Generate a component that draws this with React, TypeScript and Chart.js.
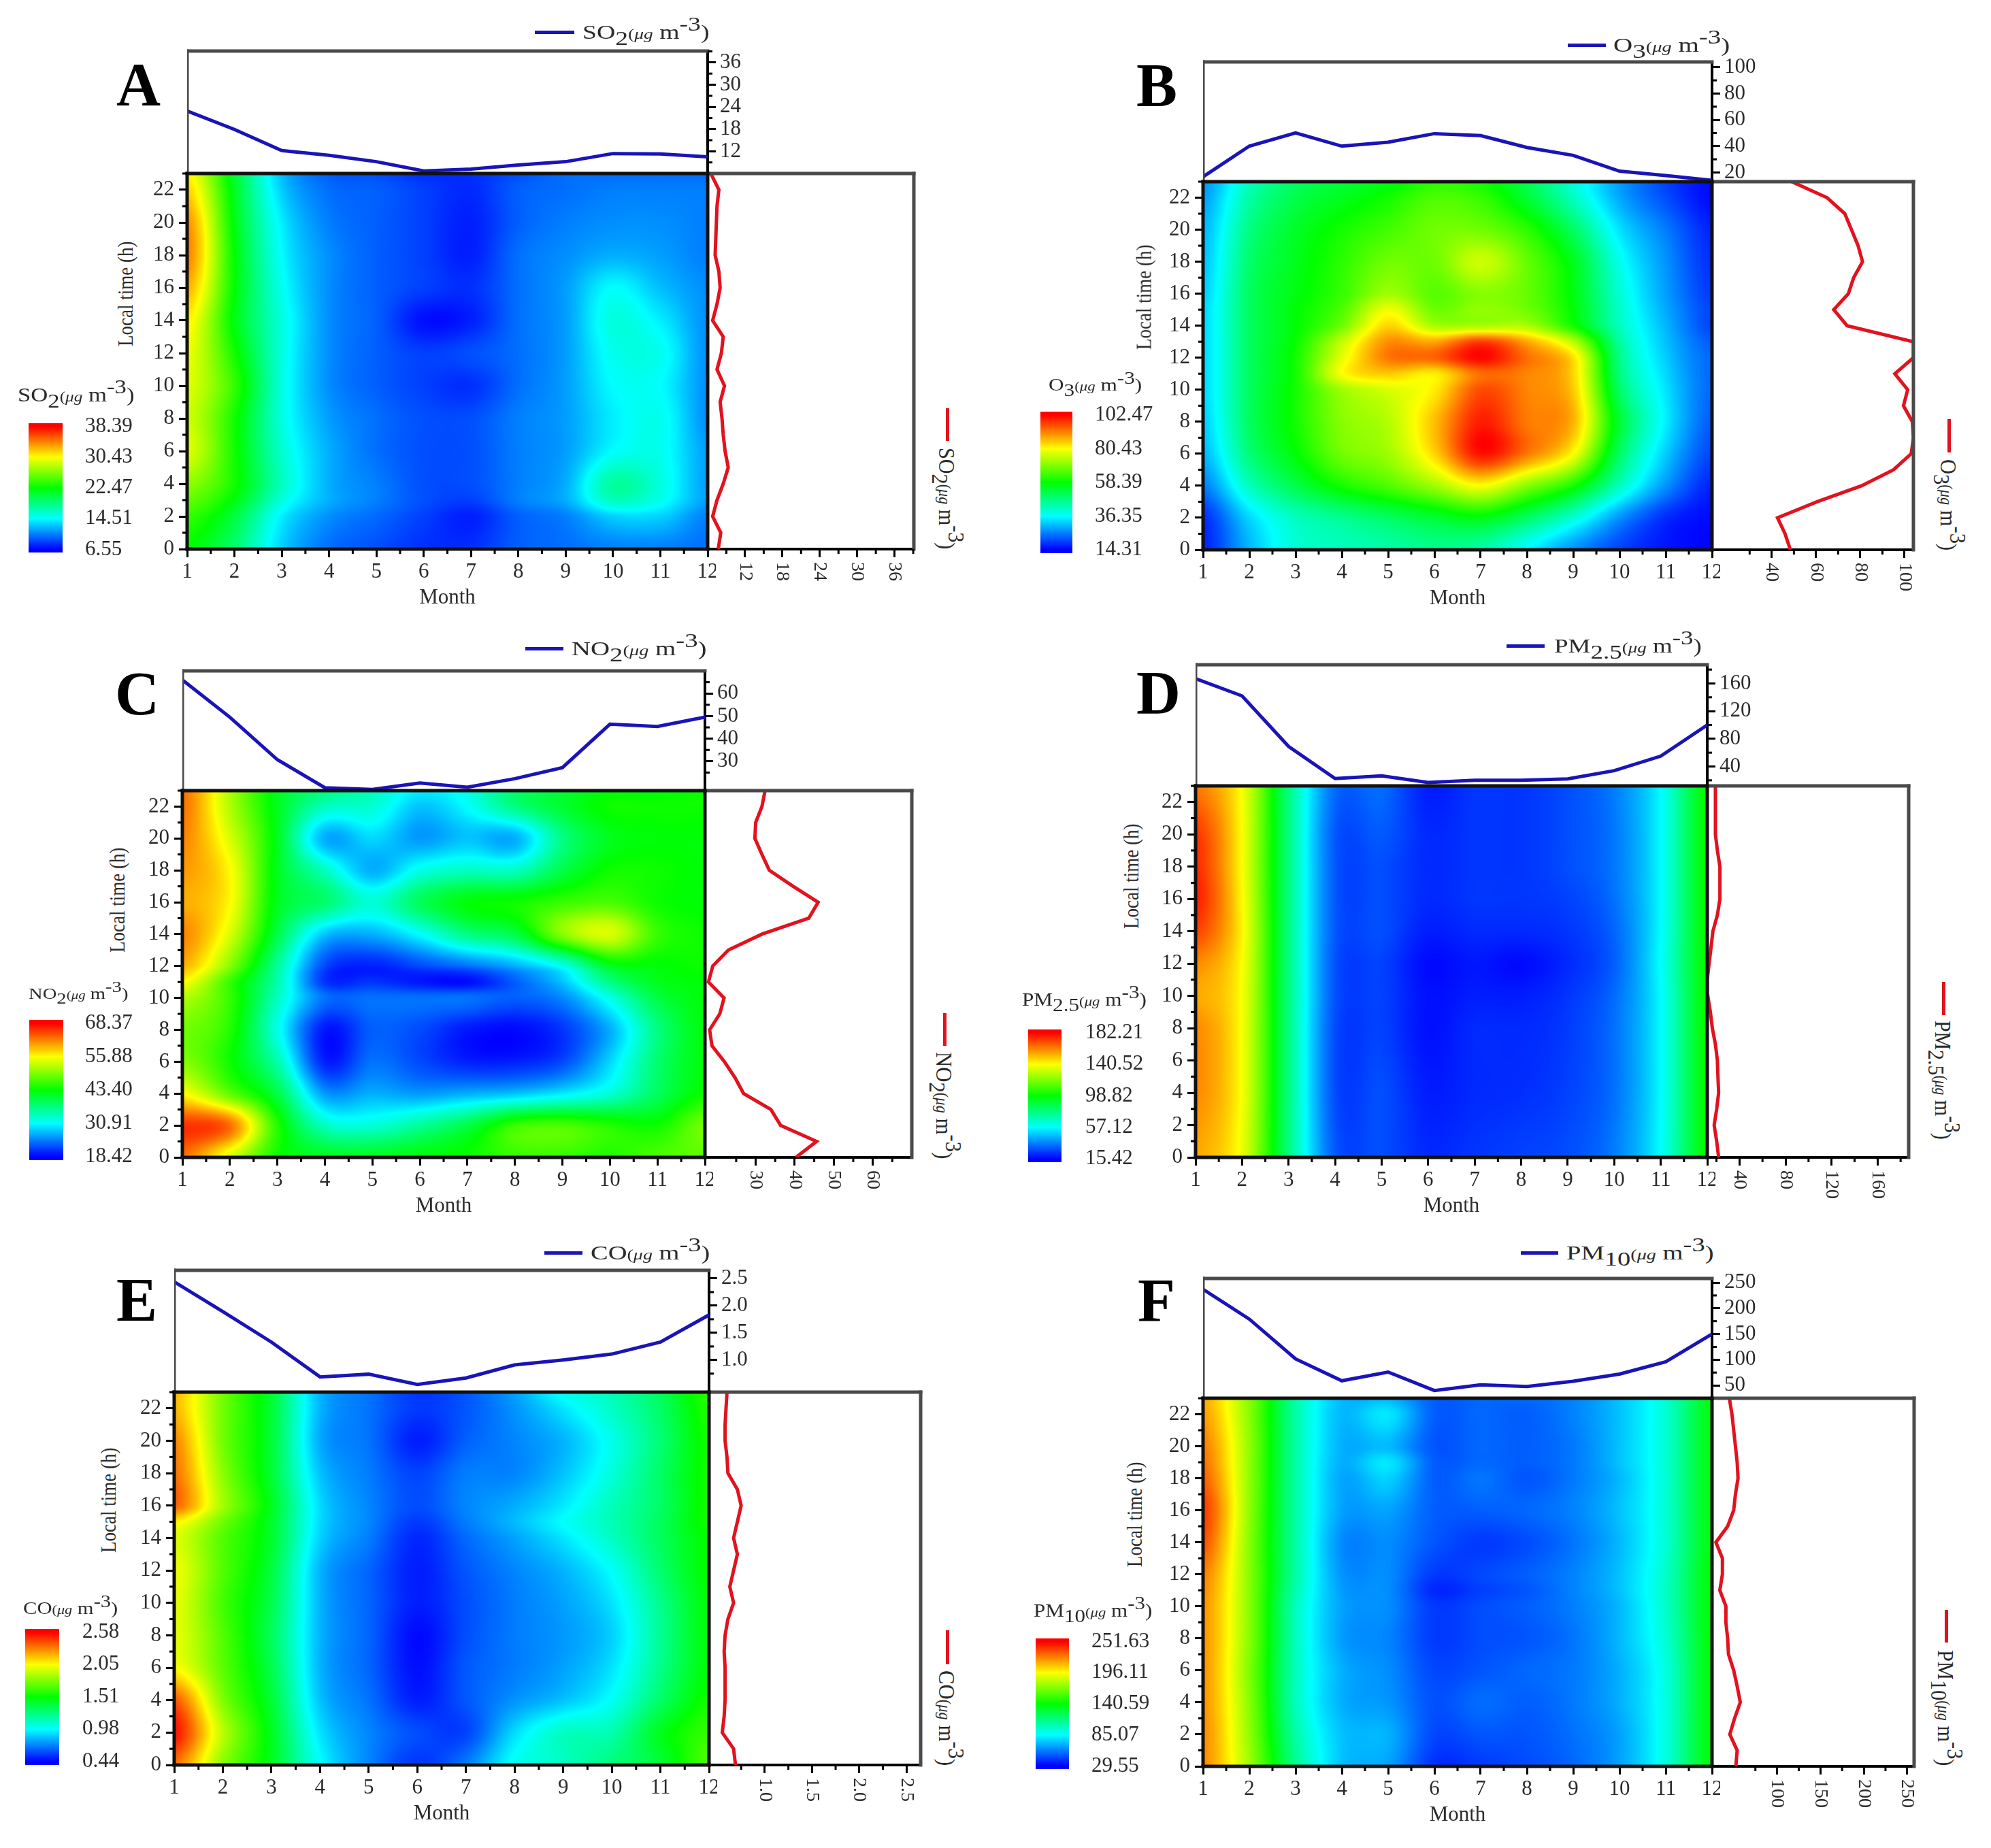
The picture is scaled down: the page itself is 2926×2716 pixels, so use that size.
import React, { useEffect, useRef } from "react";
import { Chart, registerables } from "chart.js";
Chart.register(...registerables);

const FONT = "Liberation Serif";
const INK = "#2b2b2b";
const months = [1, 2, 3, 4, 5, 6, 7, 8, 9, 10, 11, 12];
const hourAxisTicks = [0, 2, 4, 6, 8, 10, 12, 14, 16, 18, 20, 22];

/* ---------- SO2 ---------- */
const so2Monthly = [22.9, 17.9, 12.2, 10.9, 9.2, 6.7, 7.2, 8.3, 9.2, 11.4, 11.3, 10.5];
const so2Hourly = [7.7, 8.1, 6.8, 7.5, 8.5, 9.3, 8.8, 8.5, 8.3, 8.0, 8.7, 7.5, 8.2, 8.5, 6.8, 7.5, 8.0, 7.8, 7.2, 7.3, 7.4, 7.5, 7.8, 6.5];
const so2Hours = [23, 22, 20, 18, 16, 14, 12, 10, 8, 6, 4, 3, 2, 0];
const so2Grid = [
  [31, 21, 12.5, 9.5, 9, 8, 8, 9, 10, 10, 10, 10],
  [32, 21.5, 13, 10, 9.5, 8.5, 7.8, 9.5, 10, 10.5, 10.5, 10.5],
  [34, 22, 14, 10.5, 9.5, 8.5, 7.5, 9.5, 10.5, 11, 11, 10.5],
  [34.5, 22.5, 14.5, 11, 9.5, 8.5, 7.5, 10, 11, 12, 11.5, 10.5],
  [33, 22.5, 15, 11, 9.5, 8.5, 8, 10, 11.5, 14.5, 12.5, 11],
  [31, 22, 15.5, 11, 9.5, 7, 7.5, 10, 11.5, 15.5, 14, 11],
  [30, 23, 15.5, 11, 9.5, 8.5, 9, 10, 11.5, 15, 15, 11],
  [29.5, 24, 15.5, 11, 9.5, 8.5, 8, 10, 11.5, 14.5, 14.5, 11],
  [29, 23, 15.5, 11.5, 10, 9, 9, 10.5, 11.5, 14, 15, 11],
  [29.5, 23, 16, 12, 10, 9, 9, 10.5, 11.5, 14.5, 15, 11.5],
  [27, 23, 16.5, 12, 10.5, 9, 9, 10.5, 12, 17.5, 15.5, 11.5],
  [25.5, 22, 15.5, 12, 10.5, 9, 8.5, 10.5, 12, 16.5, 15, 11.5],
  [24, 20.5, 14, 11, 9.8, 8.5, 7.5, 9.5, 10.5, 13, 13, 10.5],
  [22.5, 19, 13, 10, 9, 8, 8, 9.5, 10, 10.5, 10.5, 10],
];
const so2Legend = [38.39, 30.43, 22.47, 14.51, 6.55];

/* ---------- O3 ---------- */
const o3Monthly = [16.7, 40, 50, 40, 43, 49.5, 48, 39, 33, 21, 17.6, 14];
const o3Hourly = [48.4, 46, 42.6, 60.5, 80.6, 95, 103, 104, 103.5, 99.5, 101.4, 95.6, 104, 104, 74, 68, 74.6, 77, 81, 79, 76, 73, 65, 49];
const o3Hours = [23, 22, 20, 18, 16, 15, 14, 13, 12, 11, 10, 8, 6, 4, 2, 0];
const o3Grid = [
  [27, 42, 50, 54, 57, 62, 60, 52, 40, 28, 20, 15],
  [28, 44, 52, 56, 60, 65, 63, 54, 42, 29, 21, 15],
  [30, 47, 55, 60, 64, 68, 68, 62, 50, 34, 25, 17],
  [31, 49, 56, 62, 68, 68, 76, 67, 56, 38, 27, 18],
  [32, 50, 57, 63, 72, 66, 70, 67, 57, 40, 28, 19],
  [33, 50, 58, 65, 79, 68, 71, 68, 58, 41, 29, 20],
  [33, 50, 58, 68, 84, 73, 73, 73, 60, 42, 30, 20],
  [33, 50, 59, 75, 90, 88, 97, 88, 74, 45, 31, 22],
  [33, 50, 60, 78, 92, 94, 102, 93, 83, 47, 32, 23],
  [33, 50, 60, 80, 85, 82, 93, 91, 84, 48, 33, 23],
  [33, 50, 60, 72, 77, 82, 96, 91, 85, 50, 34, 23],
  [32, 50, 60, 70, 74, 86, 100, 92, 87, 54, 35, 22],
  [30, 48, 58, 68, 72, 84, 101, 92, 80, 50, 32, 20],
  [25, 42, 52, 60, 65, 72, 80, 70, 60, 42, 27, 17],
  [18, 33, 42, 46, 50, 54, 57, 50, 40, 27, 18, 15],
  [17, 30, 40, 42, 44, 46, 44, 36, 27, 20, 16, 14.5],
];
const o3Legend = [102.47, 80.43, 58.39, 36.35, 14.31];

/* ---------- NO2 ---------- */
const no2Monthly = [66, 49.5, 30.7, 18.3, 17.5, 20.4, 18.5, 22.3, 27.2, 46.4, 45.4, 49.5];
const no2Hourly = [40.3, 45.6, 36.4, 33.9, 26.9, 24.7, 22, 18.8, 18.2, 20.8, 21.9, 17.9, 19, 23, 31.6, 43.6, 46, 39.6, 33.5, 31.6, 29.8, 30, 31.6, 32.4];
const no2Hours = [23, 22, 20, 18, 16, 14, 12, 11, 10, 8, 6, 4, 2, 0];
const no2Grid = [
  [63, 52, 42, 37, 34, 30, 32, 38, 41, 43, 43, 44],
  [63, 52, 42, 34, 33, 28, 31, 37, 41, 44, 44, 44],
  [62, 54, 42, 27, 29, 26, 28, 27, 37, 42, 43, 43],
  [61, 56, 42, 34, 27, 32, 34, 34, 40, 44, 44, 43],
  [60, 56, 42, 38, 33, 39, 43, 44, 46, 47, 44, 43],
  [62, 54, 40, 28, 27, 31, 37, 40, 50, 54, 46, 44],
  [60, 50, 36, 22, 20, 22, 24, 27, 32, 42, 43, 44],
  [56, 46, 35, 21, 21, 19.5, 19, 23, 28, 37, 42, 43],
  [52, 46, 34, 24, 24, 24, 24, 23, 25, 32, 40, 43],
  [49, 45, 32, 19.5, 23, 22, 19.5, 18.8, 21, 27, 37, 43],
  [50, 44, 35, 20, 24, 22, 20, 20, 22, 29, 38, 43],
  [56, 48, 40, 26, 27, 26, 27, 28, 30, 33, 39, 44],
  [66, 63, 45, 34, 33, 36, 40, 46, 47, 45, 44, 49],
  [63, 54, 44, 42, 42, 43, 44, 46, 46, 45, 47, 48],
];
const no2Legend = [68.37, 55.88, 43.4, 30.91, 18.42];

/* ---------- PM2.5 ---------- */
const pm25Monthly = [167, 142, 69, 22.5, 26.5, 17, 20, 20, 22, 34, 55, 100];
const pm25Hourly = [21.9, 20.2, 18, 20.2, 21.9, 21.3, 20.8, 19.1, 16.4, 14.7, 12.5, 12, 13.6, 15.3, 16.9, 20.8, 23, 23, 23, 20.8, 19.1, 19.1, 19.1, 19.1];
const pm25Hours = [23, 20, 18, 16, 14, 12, 10, 8, 4, 0];
const pm25Grid = [
  [163, 139, 78, 33, 33, 20, 24, 24, 28, 36, 57, 100],
  [174, 140, 78, 30, 30, 22, 24, 24, 28, 35, 57, 100],
  [176, 140, 78, 30, 28, 22, 24, 24, 28, 35, 57, 100],
  [178, 141, 78, 30, 28, 22, 24, 24, 26, 34, 57, 100],
  [172, 142, 78, 30, 28, 20, 22, 22, 24, 32, 57, 100],
  [160, 140, 78, 29, 26, 17, 19, 17, 22, 31, 58, 100],
  [155, 139, 78, 29, 26, 18, 20, 20, 24, 33, 57, 100],
  [160, 139, 78, 28, 26, 18, 22, 22, 25, 34, 57, 100],
  [160, 139, 78, 28, 28, 20, 22, 23, 26, 34, 57, 100],
  [155, 137, 78, 30, 28, 22, 24, 26, 28, 36, 58, 100],
];
const pm25Legend = [182.21, 140.52, 98.82, 57.12, 15.42];

/* ---------- CO ---------- */
const coMonthly = [2.44, 1.89, 1.33, 0.69, 0.74, 0.55, 0.67, 0.91, 1.0, 1.11, 1.33, 1.83];
const coHourly = [0.69, 0.67, 0.55, 0.57, 0.58, 0.58, 0.58, 0.57, 0.58, 0.61, 0.67, 0.63, 0.67, 0.71, 0.67, 0.71, 0.75, 0.71, 0.61, 0.6, 0.58, 0.58, 0.59, 0.6];
const coHours = [23, 22, 20, 18, 16, 15, 14, 12, 10, 8, 6, 4, 2, 0];
const coGrid = [
  [2.2, 1.75, 1.4, 0.82, 0.68, 0.55, 0.62, 0.78, 1.0, 1.12, 1.32, 1.6],
  [2.2, 1.75, 1.4, 0.82, 0.68, 0.56, 0.62, 0.75, 0.92, 1.1, 1.3, 1.58],
  [2.3, 1.75, 1.4, 0.8, 0.68, 0.5, 0.64, 0.72, 0.82, 1.02, 1.27, 1.55],
  [2.35, 1.8, 1.4, 0.85, 0.7, 0.58, 0.7, 0.72, 0.85, 1.05, 1.3, 1.55],
  [2.38, 1.85, 1.45, 0.9, 0.72, 0.6, 0.72, 0.8, 0.93, 1.12, 1.3, 1.55],
  [2.08, 1.74, 1.42, 0.9, 0.72, 0.56, 0.7, 0.83, 0.98, 1.13, 1.32, 1.55],
  [1.98, 1.68, 1.42, 0.88, 0.7, 0.52, 0.66, 0.78, 0.92, 1.1, 1.32, 1.52],
  [2.02, 1.68, 1.38, 0.82, 0.65, 0.5, 0.62, 0.72, 0.82, 0.99, 1.28, 1.52],
  [2.0, 1.65, 1.35, 0.82, 0.65, 0.5, 0.6, 0.7, 0.78, 0.92, 1.22, 1.5],
  [2.0, 1.68, 1.32, 0.82, 0.65, 0.46, 0.6, 0.7, 0.76, 0.88, 1.2, 1.5],
  [2.05, 1.7, 1.35, 0.82, 0.65, 0.47, 0.62, 0.7, 0.78, 0.92, 1.22, 1.5],
  [2.4, 1.78, 1.4, 0.85, 0.68, 0.5, 0.62, 0.75, 0.85, 1.0, 1.3, 1.55],
  [2.55, 1.9, 1.45, 0.92, 0.72, 0.6, 0.58, 0.9, 1.1, 1.15, 1.45, 1.62],
  [2.35, 1.8, 1.45, 0.98, 0.72, 0.55, 0.7, 1.0, 1.1, 1.25, 1.4, 1.68],
];
const coLegend = [2.58, 2.05, 1.51, 0.98, 0.44];

/* ---------- PM10 ---------- */
const pm10Monthly = [237, 179, 101.5, 59, 76, 40, 51, 48, 58, 72, 96, 150];
const pm10Hourly = [52.5, 54, 45.5, 51, 57.6, 54, 50, 44, 43, 41, 41, 34, 37, 37, 29.5, 43, 50, 52, 55, 54, 52, 50, 48, 45];
const pm10Hours = [23, 22, 20, 19, 18, 16, 14, 12, 11, 10, 8, 6, 4, 2, 0];
const pm10Grid = [
  [215, 170, 105, 70, 70, 50, 52, 52, 58, 72, 95, 138],
  [218, 170, 105, 70, 80, 50, 52, 50, 58, 72, 95, 138],
  [225, 172, 105, 68, 70, 48, 52, 50, 56, 72, 95, 138],
  [228, 172, 105, 68, 80, 50, 52, 50, 56, 72, 95, 138],
  [232, 172, 105, 66, 75, 50, 55, 48, 56, 70, 95, 138],
  [240, 172, 105, 65, 65, 50, 50, 52, 58, 72, 95, 138],
  [235, 170, 105, 60, 60, 48, 42, 46, 55, 70, 95, 138],
  [225, 170, 105, 62, 60, 42, 45, 50, 58, 72, 97, 140],
  [222, 170, 103, 64, 60, 38, 43, 48, 58, 72, 98, 140],
  [220, 170, 100, 65, 60, 42, 46, 50, 57, 70, 97, 140],
  [220, 170, 100, 64, 58, 42, 46, 48, 55, 70, 95, 140],
  [220, 168, 100, 68, 60, 45, 48, 52, 56, 68, 92, 140],
  [220, 170, 100, 68, 62, 47, 53, 50, 56, 68, 92, 140],
  [222, 172, 105, 72, 68, 45, 48, 48, 54, 65, 92, 140],
  [222, 175, 110, 72, 65, 40, 42, 46, 52, 65, 92, 140],
];
const pm10Legend = [251.63, 196.11, 140.59, 85.07, 29.55];

/* ---------- panels: data ---------- */
const panelData = [
  { id: "A", head: "SO", sub: "2", natural: 148, monthly: so2Monthly, hourly: so2Hourly, hours: so2Hours, grid: so2Grid, legend: so2Legend, digits: 2,
    range: [6, 39.1], topTicks: [12, 18, 24, 30, 36], rightTicks: [12, 18, 24, 30, 36], tickDigits: 0 },
  { id: "B", head: "O", sub: "3", natural: 131.5, monthly: o3Monthly, hourly: o3Hourly, hours: o3Hours, grid: o3Grid, legend: o3Legend, digits: 2,
    range: [13, 104], topTicks: [20, 40, 60, 80, 100], rightTicks: [40, 60, 80, 100], tickDigits: 0 },
  { id: "C", head: "NO", sub: "2", natural: 153, monthly: no2Monthly, hourly: no2Hourly, hours: no2Hours, grid: no2Grid, legend: no2Legend, digits: 2,
    range: [17, 70], topTicks: [30, 40, 50, 60], rightTicks: [30, 40, 50, 60], tickDigits: 0 },
  { id: "D", head: "PM", sub: "2.5", natural: 176, monthly: pm25Monthly, hourly: pm25Hourly, hours: pm25Hours, grid: pm25Grid, legend: pm25Legend, digits: 2,
    range: [12, 187], topTicks: [40, 80, 120, 160], rightTicks: [40, 80, 120, 160], tickDigits: 0 },
  { id: "E", head: "CO", sub: "", natural: 136.5, monthly: coMonthly, hourly: coHourly, hours: coHours, grid: coGrid, legend: coLegend, digits: 2,
    range: [0.41, 2.65], topTicks: [1, 1.5, 2, 2.5], rightTicks: [1, 1.5, 2, 2.5], tickDigits: 1 },
  { id: "F", head: "PM", sub: "10", natural: 168, monthly: pm10Monthly, hourly: pm10Hourly, hours: pm10Hours, grid: pm10Grid, legend: pm10Legend, digits: 2,
    range: [25, 258], topTicks: [50, 100, 150, 200, 250], rightTicks: [100, 150, 200, 250], tickDigits: 0 },
];

/* ---------- panels: layout (pixels on the page) ---------- */
const panelLayout = [
  { L: 275, R: 1040, T0: 75, T: 255, B: 807, RR: 1343,
    bar: [42, 92, 622, 812], barGap: 25, barTitle: [26, 580, 171, 30],
    topLeg: [786, 844, 47, 856, 186], rightLeg: [1392, 600, 648, 658, 149],
    letter: [171, 155], time: [185, 509] },
  { L: 1768, R: 2516, T0: 91, T: 267, B: 808, RR: 2812,
    bar: [1529, 1576, 605, 813], barGap: 25, barTitle: [1541, 566, 137, 26],
    topLeg: [2304, 2360, 66, 2371, 171], rightLeg: [2864, 616, 665, 675, 134],
    letter: [1670, 156], time: [1681, 514] },
  { L: 268, R: 1036, T0: 986, T: 1162, B: 1701, RR: 1340,
    bar: [43, 93, 1499, 1705], barGap: 24, barTitle: [42, 1460, 146, 24],
    topLeg: [772, 828, 953, 840, 198], rightLeg: [1388, 1489, 1537, 1546, 157],
    letter: [169, 1050], time: [173, 1400] },
  { L: 1757, R: 2509, T0: 977, T: 1155, B: 1701, RR: 2805,
    bar: [1511, 1560, 1513, 1708], barGap: 27, barTitle: [1502, 1469, 183, 27],
    topLeg: [2214, 2270, 949, 2284, 217], rightLeg: [2856, 1443, 1492, 1500, 175],
    letter: [1670, 1049], time: [1663, 1365] },
  { L: 256, R: 1042, T0: 1867, T: 2046, B: 2594, RR: 1353,
    bar: [37, 87, 2394, 2594], barGap: 26, barTitle: [34, 2364, 139, 26],
    topLeg: [800, 856, 1841, 868, 175], rightLeg: [1392, 2396, 2446, 2455, 140],
    letter: [171, 1941], time: [160, 2282] },
  { L: 1768, R: 2516, T0: 1879, T: 2055, B: 2596, RR: 2813,
    bar: [1522, 1571, 2408, 2600], barGap: 25, barTitle: [1519, 2367, 174, 27],
    topLeg: [2235, 2290, 1841, 2302, 216], rightLeg: [2860, 2366, 2414, 2425, 170],
    letter: [1672, 1942], time: [1668, 2303] },
];

/* ---------- helpers ---------- */
const STOPS = [[0, 0, 255], [0, 255, 255], [0, 255, 0], [255, 255, 0], [255, 0, 0]];
function rainbow(t: number) {
  const c = Math.max(0, Math.min(0.99999, t)) * 4;
  const i = Math.floor(c), f = c - i;
  const a = STOPS[i], b = STOPS[i + 1];
  return [a[0] + (b[0] - a[0]) * f, a[1] + (b[1] - a[1]) * f, a[2] + (b[2] - a[2]) * f];
}
function cr(p0: number, p1: number, p2: number, p3: number, t: number) {
  return 0.5 * (2 * p1 + (p2 - p0) * t + (2 * p0 - 5 * p1 + 4 * p2 - p3) * t * t + (3 * p1 - p0 - 3 * p2 + p3) * t * t * t);
}
function sampleGrid(grid: number[][], ri: number, rf: number, ci: number, cf: number) {
  const nr = grid.length, nc = grid[0].length;
  const col = (r: number) => {
    const row = grid[Math.max(0, Math.min(nr - 1, r))];
    const at = (c: number) => row[Math.max(0, Math.min(nc - 1, c))];
    return cr(at(ci - 1), at(ci), at(ci + 1), at(ci + 2), cf);
  };
  return cr(col(ri - 1), col(ri), col(ri + 1), col(ri + 2), rf);
}
const frame = (sides: string, color: string, width = 5) => ({
  id: "frame",
  afterDatasetsDraw(chart: any) {
    const { left, right, top, bottom } = chart.chartArea;
    const c = chart.ctx;
    c.save();
    c.strokeStyle = color;
    c.lineWidth = width;
    c.lineCap = "square";
    const seg = (a: number, b: number, d: number, e: number) => { c.beginPath(); c.moveTo(a, b); c.lineTo(d, e); c.stroke(); };
    if (sides.includes("t")) seg(left, top, right, top);
    if (sides.includes("b")) seg(left, bottom, right, bottom);
    if (sides.includes("l")) seg(left, top, left, bottom);
    if (sides.includes("r")) seg(right, top, right, bottom);
    c.restore();
  },
});
const minorTicks = (scaleId: string, values: number[], dir: number[]) => ({
  id: "minor" + scaleId,
  afterDraw(chart: any) {
    const s = chart.scales[scaleId];
    const c = chart.ctx;
    c.save();
    c.strokeStyle = "#000";
    c.lineWidth = 3;
    values.forEach((v) => {
      if (v < s.min || v > s.max) return;
      const p = s.getPixelForValue(v);
      c.beginPath();
      if (s.isHorizontal()) { c.moveTo(p, s.top); c.lineTo(p, s.top + dir[1] * 7); }
      else { const x0 = dir[0] > 0 ? s.left : s.right; c.moveTo(x0, p); c.lineTo(x0 + dir[0] * 7, p); }
      c.stroke();
    });
    c.restore();
  },
});
function minorsOf(ticks: number[], range: number[]) {
  const step = (ticks[1] - ticks[0]) / 2;
  const out: number[] = [];
  for (let k = -20; k < 60; k++) {
    const v = ticks[0] + k * step;
    if (v > range[0] && v < range[1] && k % 2 !== 0) out.push(v);
  }
  return out;
}
const heatLayer = {
  id: "heatLayer",
  beforeDatasetsDraw(chart: any) {
    const ds = chart.data.datasets[0];
    const { left, top, right, bottom } = chart.chartArea;
    const w = Math.round(right - left), h = Math.round(bottom - top);
    const img = chart.ctx.createImageData(w, h);
    const hrs: number[] = ds.hoursAsc, g: number[][] = ds.grid, mn: number = ds.vmin, mx: number = ds.vmax;
    const sx = chart.scales.x, sy = chart.scales.y;
    for (let j = 0; j < h; j++) {
      const hv = sy.getValueForPixel(top + j + 0.5);
      let ri = 0;
      while (ri < hrs.length - 2 && hv > hrs[ri + 1]) ri++;
      const rf = Math.max(0, Math.min(1, (hv - hrs[ri]) / (hrs[ri + 1] - hrs[ri])));
      for (let i = 0; i < w; i++) {
        const mv = sx.getValueForPixel(left + i + 0.5);
        const ci = Math.max(0, Math.min(10, Math.floor(mv - 1)));
        const cf = Math.max(0, Math.min(1, mv - 1 - ci));
        const rgb = rainbow((sampleGrid(g, ri, rf, ci, cf) - mn) / (mx - mn));
        const o = (j * w + i) * 4;
        img.data[o] = rgb[0]; img.data[o + 1] = rgb[1]; img.data[o + 2] = rgb[2]; img.data[o + 3] = 255;
      }
    }
    chart.ctx.putImageData(img, Math.round(left), Math.round(top));
  },
};
const rotatedTickLabels = (digits: number) => ({
  id: "rotatedTickLabels",
  afterDraw(chart: any) {
    const s = chart.scales.x;
    const c = chart.ctx;
    c.save();
    c.font = `28px "${FONT}"`;
    c.fillStyle = INK;
    c.textAlign = "left";
    c.textBaseline = "middle";
    s.ticks.forEach((t: any) => {
      c.save();
      c.translate(s.getPixelForValue(t.value), s.top + 19);
      c.rotate(Math.PI / 2);
      c.fillText(t.value.toFixed(digits), 0, 0);
      c.restore();
    });
    c.restore();
  },
});
const setTicks = (vals: number[]) => (s: any) => { s.ticks = vals.map((v) => ({ value: v })); };
const fitBox = (key: string, size: number) => (s: any) => {
  s[key] = size;
  s.paddingTop = 0; s.paddingBottom = 0; s.paddingLeft = 0; s.paddingRight = 0;
};
const axisGrid = { drawOnChartArea: false, tickLength: 12, tickWidth: 3, tickColor: "#000" };
const axisBorder = { color: "#000", width: 4 };
const tickFont = { family: FONT, size: 31 };

function makeCharts(d: any, l: any, refs: any) {
  const charts: Chart[] = [];
  const fixed = { animation: false, responsive: false, devicePixelRatio: 1, plugins: { legend: { display: false }, tooltip: { enabled: false } } };
  const hoursAsc = [...d.hours].reverse();
  const gridAsc = [...d.grid].reverse();
  const vmax = d.legend[0], vmin = d.legend[d.legend.length - 1];

  // top line chart
  charts.push(new Chart(refs.top, {
    type: "scatter",
    data: { datasets: [{ label: d.head + d.sub + " monthly", data: months.map((m, i) => ({ x: m, y: d.monthly[i] })), showLine: true, borderColor: "#1a14b8", borderWidth: 5, pointRadius: 0, tension: 0 }] },
    options: { ...fixed, layout: { autoPadding: false, padding: { left: 0, right: 0, top: 10, bottom: 10 } },
      scales: {
        x: { type: "linear", display: false, min: 1, max: 12 },
        y: { type: "linear", position: "right", min: d.range[0], max: d.range[1], afterBuildTicks: setTicks(d.topTicks), afterFit: fitBox("width", 90),
          grid: axisGrid, border: axisBorder,
          ticks: { autoSkip: false, padding: 6, color: INK, font: tickFont, callback: (v: number) => v.toFixed(d.tickDigits) } },
      } },
    plugins: [frame("tl", "#4a4a4a"), minorTicks("y", minorsOf(d.topTicks, d.range), [1, 0])],
  } as any));

  // right line chart
  charts.push(new Chart(refs.right, {
    type: "scatter",
    data: { datasets: [{ label: d.head + d.sub + " hourly", data: d.hourly.map((v: number, h: number) => ({ x: v, y: h })), showLine: true, borderColor: "#e2121e", borderWidth: 5, pointRadius: 0, tension: 0 }] },
    options: { ...fixed, layout: { autoPadding: false, padding: { left: 0, right: 12, top: 10, bottom: 0 } },
      scales: {
        x: { type: "linear", position: "bottom", min: d.range[0], max: d.range[1], afterBuildTicks: setTicks(d.rightTicks), afterFit: fitBox("height", 70),
          grid: axisGrid, border: axisBorder, ticks: { display: false, autoSkip: false } },
        y: { type: "linear", display: false, min: 0, max: 23 },
      } },
    plugins: [frame("tr", "#4a4a4a"), minorTicks("x", minorsOf(d.rightTicks, d.range), [0, 1]), rotatedTickLabels(d.tickDigits)],
  } as any));

  // heat map
  const heatPoints: any[] = [];
  hoursAsc.forEach((h: number, r: number) => months.forEach((m, c) => heatPoints.push({ x: m, y: h, v: gridAsc[r][c] })));
  charts.push(new Chart(refs.heat, {
    type: "scatter",
    data: { datasets: [{ label: d.head + d.sub, data: heatPoints, pointRadius: 0, hoursAsc, grid: gridAsc, vmin, vmax } as any] },
    options: { ...fixed, layout: { autoPadding: false, padding: { left: 0, right: 12, top: 10, bottom: 0 } },
      scales: {
        x: { type: "linear", position: "bottom", min: 1, max: 12, afterBuildTicks: setTicks(months), afterFit: fitBox("height", 90),
          grid: axisGrid, border: axisBorder,
          title: { display: true, text: "Month", color: INK, font: { family: FONT, size: 31 }, padding: 0 },
          ticks: { autoSkip: false, maxRotation: 0, minRotation: 0, padding: 3, color: INK, font: tickFont, callback: (v: number) => String(v) } },
        y: { type: "linear", position: "left", min: 0, max: 23, afterBuildTicks: setTicks(hourAxisTicks), afterFit: fitBox("width", 70),
          grid: axisGrid, border: axisBorder,
          ticks: { autoSkip: false, padding: 7, color: INK, font: tickFont, callback: (v: number) => String(v) } },
      } },
    plugins: [heatLayer, frame("trlb", "#111"), minorTicks("x", months.slice(0, 11).map((m) => m + 0.5), [0, 1]), minorTicks("y", hourAxisTicks.map((h) => h + 1), [-1, 0])],
  } as any));

  // colour bar
  const pad = (vmax - vmin) * 0.025;
  charts.push(new Chart(refs.bar, {
    type: "bar",
    data: { labels: [d.head + d.sub], datasets: [{ label: "scale", data: [[vmin - pad, vmax + pad]], barPercentage: 1, categoryPercentage: 1,
      backgroundColor: (c: any) => {
        const s = c.chart.scales.y;
        const y0 = s ? s.getPixelForValue(vmin) : NaN, y1 = s ? s.getPixelForValue(vmax) : NaN;
        if (!Number.isFinite(y0) || !Number.isFinite(y1)) return "#00f";
        const g = c.chart.ctx.createLinearGradient(0, y0, 0, y1);
        STOPS.forEach((st, i) => g.addColorStop(i / 4, `rgb(${st[0]},${st[1]},${st[2]})`));
        return g;
      } }] },
    options: { ...fixed, layout: { autoPadding: false, padding: { left: 0, right: 0, top: 20, bottom: 20 } },
      scales: {
        x: { type: "category", display: false },
        y: { type: "linear", position: "right", min: vmin - pad, max: vmax + pad, afterBuildTicks: setTicks(d.legend), afterFit: fitBox("width", 130),
          grid: { display: false }, border: { display: false },
          ticks: { autoSkip: false, padding: l.barGap, color: INK, font: tickFont, callback: (v: number) => v.toFixed(d.digits) } },
      } },
  } as any));
  return charts;
}

function Unit({ d, fs, x, y, w, rot = 0, cross = 1 }: any) {
  const h = fs * 1.2;
  const k = w / ((d.natural * fs) / 30);
  const small = fs * 0.73;
  return (
    <div style={{ position: "absolute", left: x, top: y - h / 2, height: h, lineHeight: `${h}px`, whiteSpace: "nowrap", fontFamily: FONT, fontSize: fs, color: INK,
      transformOrigin: "0 50%", transform: `rotate(${rot}deg) scale(${k},${cross})` }}>
      {d.head}
      {d.sub ? <span style={{ position: "relative", top: "0.3em" }}>{d.sub}</span> : null}
      <span style={{ fontSize: small }}>(<i>μg</i></span> m
      <span style={{ position: "relative", top: "-0.4em" }}>-3</span>)
    </div>
  );
}

function Panel({ d, l }: any) {
  const top = useRef<HTMLCanvasElement>(null);
  const right = useRef<HTMLCanvasElement>(null);
  const heat = useRef<HTMLCanvasElement>(null);
  const bar = useRef<HTMLCanvasElement>(null);
  useEffect(() => {
    const cs = makeCharts(d, l, { top: top.current, right: right.current, heat: heat.current, bar: bar.current });
    return () => cs.forEach((c) => c.destroy());
  }, []);
  const abs = (left: number, t: number): any => ({ position: "absolute", left, top: t });
  const [bx0, bx1, by0, by1] = l.bar;
  const h = l.T - l.T0;
  return (
    <>
      <canvas ref={top} width={l.R - l.L + 90} height={h + 20} style={abs(l.L, l.T0 - 10)} />
      <canvas ref={right} width={l.RR - l.R + 12} height={l.B - l.T + 80} style={abs(l.R, l.T - 10)} />
      <canvas ref={heat} width={l.R - l.L + 82} height={l.B - l.T + 100} style={abs(l.L - 70, l.T - 10)} />
      <canvas ref={bar} width={bx1 - bx0 + 130} height={by1 - by0 + 40} style={abs(bx0, by0 - 20)} />
      <Unit d={d} fs={l.barTitle[3]} x={l.barTitle[0]} y={l.barTitle[1]} w={l.barTitle[2]} />
      <div style={{ position: "absolute", left: l.topLeg[0], top: l.topLeg[2] - 2, width: l.topLeg[1] - l.topLeg[0], height: 5, background: "#1a14b8" }} />
      <Unit d={d} fs={30} x={l.topLeg[3]} y={l.topLeg[2]} w={l.topLeg[4]} />
      <div style={{ position: "absolute", left: l.rightLeg[0] - 2, top: l.rightLeg[1], width: 5, height: l.rightLeg[2] - l.rightLeg[1], background: "#e2121e" }} />
      <Unit d={d} fs={30} x={l.rightLeg[0]} y={l.rightLeg[3]} w={l.rightLeg[4]} rot={90} cross={1.15} />
      <div style={{ position: "absolute", left: l.letter[0], top: l.letter[1] - 90 * 0.8375, lineHeight: "90px", fontFamily: FONT, fontSize: 90, fontWeight: 700, color: "#000" }}>{d.id}</div>
      <div style={{ position: "absolute", left: l.time[0], top: l.time[1] - 16, height: 32, lineHeight: "32px", whiteSpace: "nowrap", fontFamily: FONT, fontSize: 27, color: INK, transformOrigin: "0 50%", transform: "rotate(-90deg) scale(1,1.15)" }}>Local time (h)</div>
    </>
  );
}

export default function App() {
  return (
    <div style={{ position: "absolute", left: 0, top: 0, width: 2926, height: 2716, overflow: "hidden", background: "#fff", filter: "blur(0.7px)" }}>
      {panelData.map((d, i) => <Panel key={d.id} d={d} l={panelLayout[i]} />)}
    </div>
  );
}
